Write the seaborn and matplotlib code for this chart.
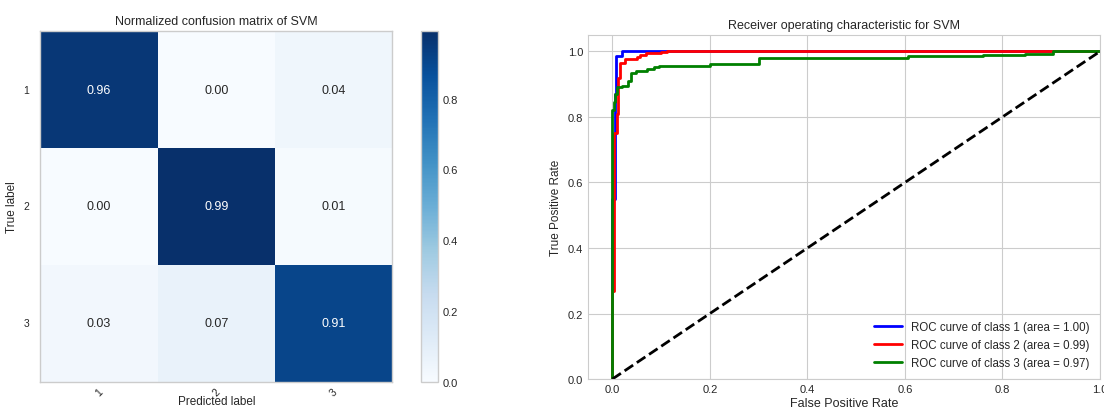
import matplotlib
matplotlib.use("Agg")
import matplotlib.pyplot as plt
import numpy as np
import pandas as pd
import seaborn as sns

# confusion matrix (row-normalised)
class_labels = ["1", "2", "3"]
cm_norm = [
    [0.96, 0.00, 0.04],
    [0.00, 0.99, 0.01],
    [0.03, 0.07, 0.91],
]

# ROC curve vertices per class
fpr_1 = [0.0, 0.0, 0.006, 0.006, 0.008, 0.008, 0.020, 0.020, 1.0]
tpr_1 = [0.0, 0.55, 0.55, 0.87, 0.87, 0.985, 0.985, 1.0, 1.0]

fpr_2 = [0.0, 0.0, 0.004, 0.004, 0.010, 0.010, 0.012, 0.012, 0.016, 0.016,
         0.025, 0.025, 0.050, 0.050, 0.057, 0.057, 0.068, 0.068, 0.100, 0.100,
         0.112, 0.112, 1.0]
tpr_2 = [0.0, 0.27, 0.27, 0.75, 0.75, 0.81, 0.81, 0.92, 0.92, 0.966,
         0.966, 0.976, 0.976, 0.983, 0.983, 0.988, 0.988, 0.994, 0.994, 0.998,
         0.998, 1.0, 1.0]

fpr_3 = [0.0, 0.0, 0.003, 0.003, 0.006, 0.006, 0.009, 0.009, 0.020, 0.020,
         0.033, 0.033, 0.038, 0.038, 0.048, 0.048, 0.072, 0.072, 0.085, 0.085,
         0.095, 0.095, 0.200, 0.200, 0.300, 0.300, 0.607, 0.607, 0.760, 0.760,
         0.846, 0.846, 0.904, 0.904, 1.0]
tpr_3 = [0.0, 0.82, 0.82, 0.845, 0.845, 0.87, 0.87, 0.89, 0.89, 0.895,
         0.895, 0.91, 0.91, 0.935, 0.935, 0.94, 0.94, 0.945, 0.945, 0.951,
         0.951, 0.956, 0.956, 0.962, 0.962, 0.980, 0.980, 0.985, 0.985, 0.990,
         0.990, 0.993, 0.993, 1.0, 1.0]

roc_areas = [1.00, 0.99, 0.97]
roc_colors = ["blue", "red", "green"]

sns.set_style("whitegrid")
plt.rcParams["font.family"] = ["Liberation Sans", "DejaVu Sans"]
plt.rcParams["text.color"] = ".15"

fig = plt.figure(figsize=(11.04, 4.14), dpi=100)
ax_cm = fig.add_axes([0.0365, 0.076, 0.3190, 0.846])
ax_cb = fig.add_axes([0.3812, 0.076, 0.0157, 0.846])
ax_roc = fig.add_axes([0.5326, 0.082, 0.4638, 0.831])

# --- left: normalised confusion matrix ---
cm_df = pd.DataFrame(cm_norm, index=class_labels, columns=class_labels)
sns.heatmap(cm_df, ax=ax_cm, cbar_ax=ax_cb, cmap="Blues", vmin=0, vmax=np.max(cm_norm),
            annot=True, fmt=".2f", annot_kws={"size": 9})
ax_cm.grid(False)
for sp in ax_cm.spines.values():
    sp.set_visible(True)
    sp.set_color(".8")
    sp.set_linewidth(1)
ax_cm.set_title("Normalized confusion matrix of SVM", fontsize=9, pad=5)
ax_cm.set_xlabel("Predicted label", fontsize=8.5, labelpad=-2)
ax_cm.set_ylabel("True label", fontsize=8.5)
ax_cm.tick_params(axis="x", labelsize=7.5, rotation=45, length=0)
ax_cm.tick_params(axis="y", labelsize=7.5, rotation=0, length=0, pad=8)

cb = ax_cm.collections[0].colorbar
cb.outline.set_visible(True)
cb.outline.set_edgecolor(".8")
cb.outline.set_linewidth(1)
cb.set_ticks([0.0, 0.2, 0.4, 0.6, 0.8])
ax_cb.tick_params(labelsize=8, length=0)

# --- right: ROC curves ---
roc_df = pd.concat([
    pd.DataFrame({"fpr": f, "tpr": t,
                  "label": f"ROC curve of class {i + 1} (area = {a:.2f})"})
    for i, (f, t, a) in enumerate(zip([fpr_1, fpr_2, fpr_3], [tpr_1, tpr_2, tpr_3], roc_areas))
], ignore_index=True)

sns.lineplot(data=roc_df, x="fpr", y="tpr", hue="label", palette=roc_colors,
             estimator=None, sort=False, lw=2, ax=ax_roc)
ax_roc.plot([0, 1], [0, 1], "k--", lw=2)
ax_roc.set_xlim(-0.05, 1.0)
ax_roc.set_ylim(0.0, 1.05)
ax_roc.set_title("Receiver operating characteristic for SVM", fontsize=9, pad=5)
ax_roc.set_xlabel("False Positive Rate", fontsize=9, labelpad=2)
ax_roc.set_ylabel("True Positive Rate", fontsize=8.5)
ax_roc.tick_params(labelsize=8, length=0)
ax_roc.legend(loc="lower right", fontsize=8.3, frameon=False, handlelength=2.4)

fig.savefig("out.png", dpi=100)
